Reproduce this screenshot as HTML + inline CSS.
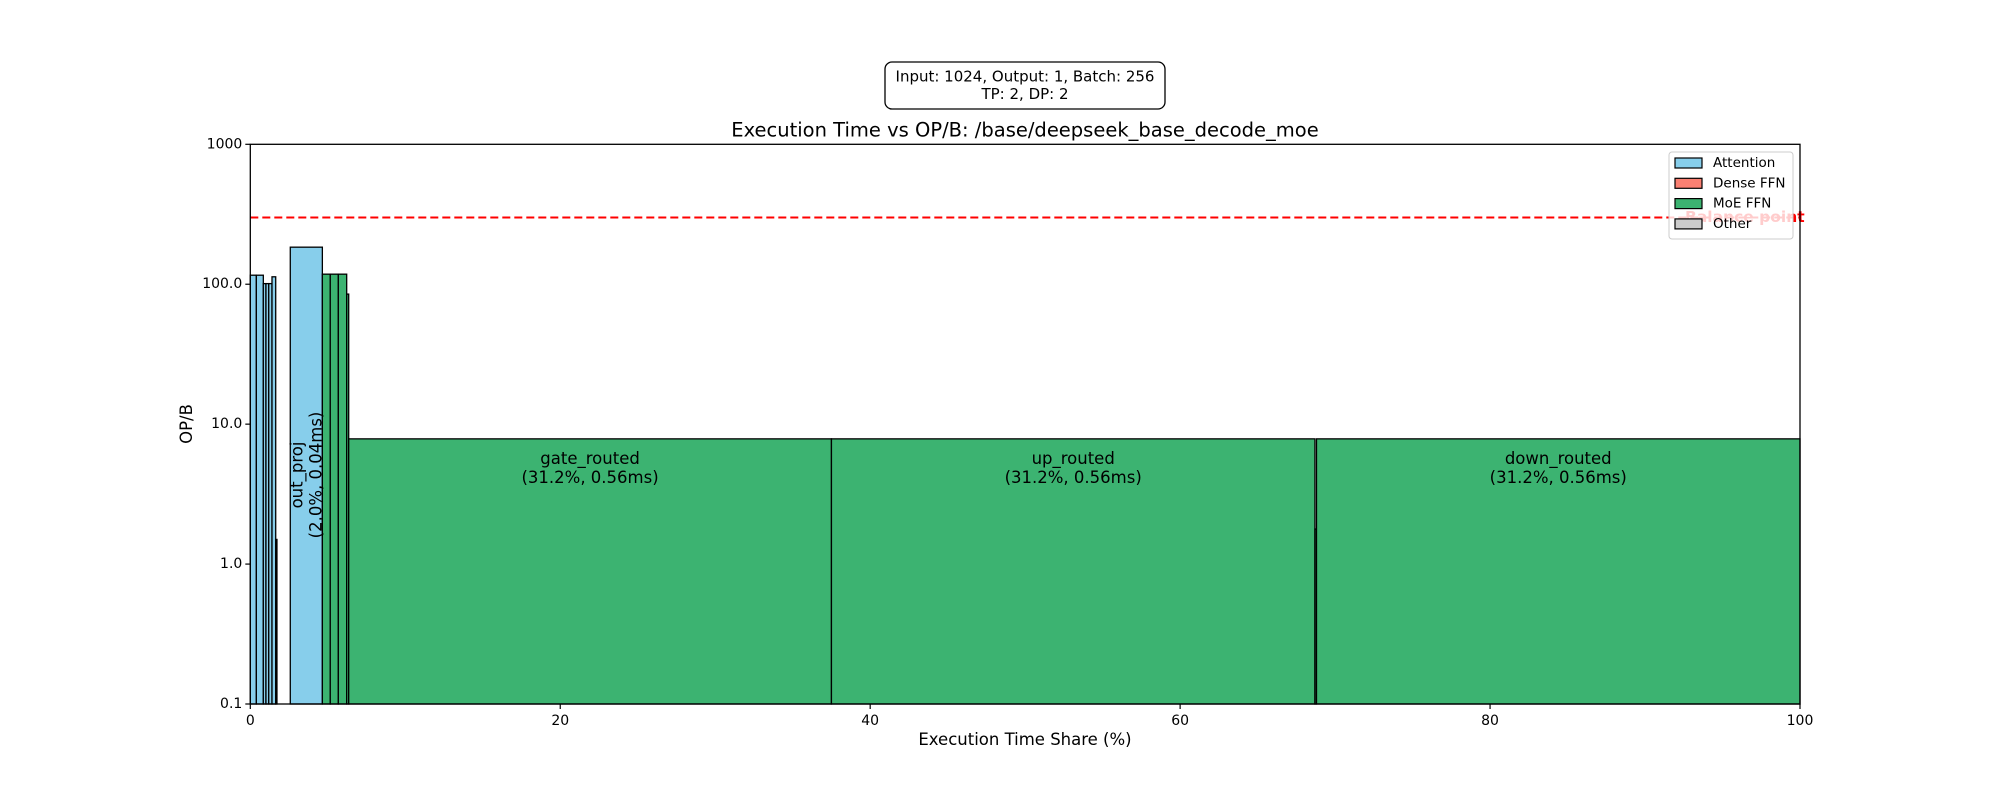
<!DOCTYPE html>
<html><head><meta charset="utf-8"><style>
body{margin:0;background:#fff}
svg{display:block;font-family:"DejaVu Sans","Liberation Sans",sans-serif}
</style></head><body>
<svg width="2000" height="800" viewBox="0 0 2000 800">
<rect width="2000" height="800" fill="#fff"/>
<g id="bars"></g>
<g id="labels"></g>
<line id="balance" x1="250.3" x2="1800" stroke="#ff0000" stroke-width="2" stroke-dasharray="8,4"/>
<text id="baltext" x="1685" font-size="15.5" font-weight="bold" fill="#ff0000" dominant-baseline="middle">Balance point</text>
<rect x="250.3" y="144.3" width="1549.7" height="559.7" fill="none" stroke="#000" stroke-width="1.3"/>
<g id="yticks" font-size="14"></g>
<g id="xticks" font-size="14"></g>
<text x="1025" y="745" font-size="16.5" text-anchor="middle">Execution Time Share (%)</text>
<text transform="translate(192,424) rotate(-90)" font-size="16.5" text-anchor="middle">OP/B</text>
<text x="1025" y="136.5" font-size="19.5" text-anchor="middle">Execution Time vs OP/B: /base/deepseek_base_decode_moe</text>
<g>
<rect x="885" y="62" width="280" height="47" rx="7" fill="#fff" stroke="#000" stroke-width="1.3"/>
<text x="1025" y="81.5" font-size="15" text-anchor="middle">Input: 1024, Output: 1, Batch: 256</text>
<text x="1025" y="99" font-size="15" text-anchor="middle">TP: 2, DP: 2</text>
</g>
<g>
<rect x="1669" y="152" width="124" height="87" rx="3" fill="#fff" fill-opacity="0.8" stroke="#ccc" stroke-width="1"/>
<g id="legend-items"></g>
</g>
</svg>
<script>
const names=["a1","a2","a3","a4","a5","a6","a7","out_proj","m1","m2","m3","m4","gate_routed","up_routed","tiny","down_routed"];
const starts=[0,0.39,0.84,1.01,1.19,1.40,1.64,2.58,4.65,5.16,5.68,6.22,6.35,37.5,68.7,68.8];
const widths=[0.39,0.45,0.17,0.18,0.21,0.24,0.08,2.07,0.51,0.52,0.54,0.13,31.15,31.2,0.1,31.2];
const opb=[116,116,101,101,101,113,1.5,184,118,118,118,85,7.85,7.85,1.78,7.85];
const cats=["Attention","Attention","Attention","Attention","Attention","Attention","Attention","Attention","MoE FFN","MoE FFN","MoE FFN","MoE FFN","MoE FFN","MoE FFN","MoE FFN","MoE FFN"];
const pct=[0,0,0,0,0,0,0,2.0,0,0,0,0,31.2,31.2,0,31.2];
const ms=[0,0,0,0,0,0,0,0.04,0,0,0,0,0.56,0.56,0,0.56];
const yTicks=[0.1,1,10,100,1000];
const yTickLabels=["0.1","1.0","10.0","100.0","1000"];
const xTicks=[0,20,40,60,80,100];
const balance=[300];
const legendCats=["Attention","Dense FFN","MoE FFN","Other"];
const colors={"Attention":"#87ceeb","Dense FFN":"#fa8072","MoE FFN":"#3cb371","Other":"#cccccc"};
const NS="http://www.w3.org/2000/svg";
const X0=250.3,X1=1800,YT=144.3,YB=704;
const xs=v=>X0+(X1-X0)*v/100;
const ys=v=>YB-(YB-YT)*(Math.log10(v)+1)/4;
function mk(t,a,p){const e=document.createElementNS(NS,t);for(const k in a)e.setAttribute(k,a[k]);p.appendChild(e);return e;}
const bars=document.getElementById('bars'),labels=document.getElementById('labels');
names.forEach((n,i)=>{
 const x=xs(starts[i]),w=xs(starts[i]+widths[i])-x,y=ys(opb[i]);
 const r=mk('rect',{x:x,y:y,width:w,height:YB-y,fill:colors[cats[i]],stroke:'#000','stroke-width':1.3},bars);
 
 
 if(pct[i]>=10){
  const cx=x+w/2;
  const t=mk('text',{x:cx,y:ys(opb[i])+25,'font-size':16.5,'text-anchor':'middle'},labels);
  
  
  mk('tspan',{x:cx},t).textContent=n;
  mk('tspan',{x:cx,dy:19},t).textContent='('+pct[i].toFixed(1)+'%, '+ms[i].toFixed(2)+'ms)';
 } else if(pct[i]>=1){
  const cx=x+w/2;
  const t=mk('text',{transform:'translate('+(cx)+',475) rotate(-90)','font-size':16.5,'text-anchor':'middle'},labels);
  
  
  mk('tspan',{x:0,y:-4},t).textContent=n;
  mk('tspan',{x:0,y:15},t).textContent='('+pct[i].toFixed(1)+'%, '+ms[i].toFixed(2)+'ms)';
 }
});
const by=ys(balance[0]);
const bl=document.getElementById('balance');bl.setAttribute('y1',by);bl.setAttribute('y2',by);
document.getElementById('baltext').setAttribute('y',by);
const yt=document.getElementById('yticks');
yTicks.forEach((v,i)=>{const y=ys(v);
 mk('line',{x1:X0-5,x2:X0,y1:y,y2:y,stroke:'#000','stroke-width':1.2},yt);
 const t=mk('text',{x:X0-8,y:y,'text-anchor':'end','dominant-baseline':'middle'},yt);
 
 
 t.textContent=yTickLabels[i];});
const xt=document.getElementById('xticks');
xTicks.forEach(v=>{const x=xs(v);
 mk('line',{x1:x,x2:x,y1:YB,y2:YB+5,stroke:'#000','stroke-width':1.2},xt);
 const t=mk('text',{x:x,y:YB+21,'text-anchor':'middle'},xt);
 
 
 t.textContent=v;});
const lg=document.getElementById('legend-items');
legendCats.forEach((c,i)=>{const y=163+i*20.3;
 const g=mk('g',{},lg);
 
 
 mk('rect',{x:1675,y:y-5,width:27,height:10,fill:colors[c],stroke:'#000','stroke-width':1.2},g);
 const t=mk('text',{x:1713,y:y,'font-size':13.5,'dominant-baseline':'middle'},g);t.textContent=c;});
</script>
</body></html>
